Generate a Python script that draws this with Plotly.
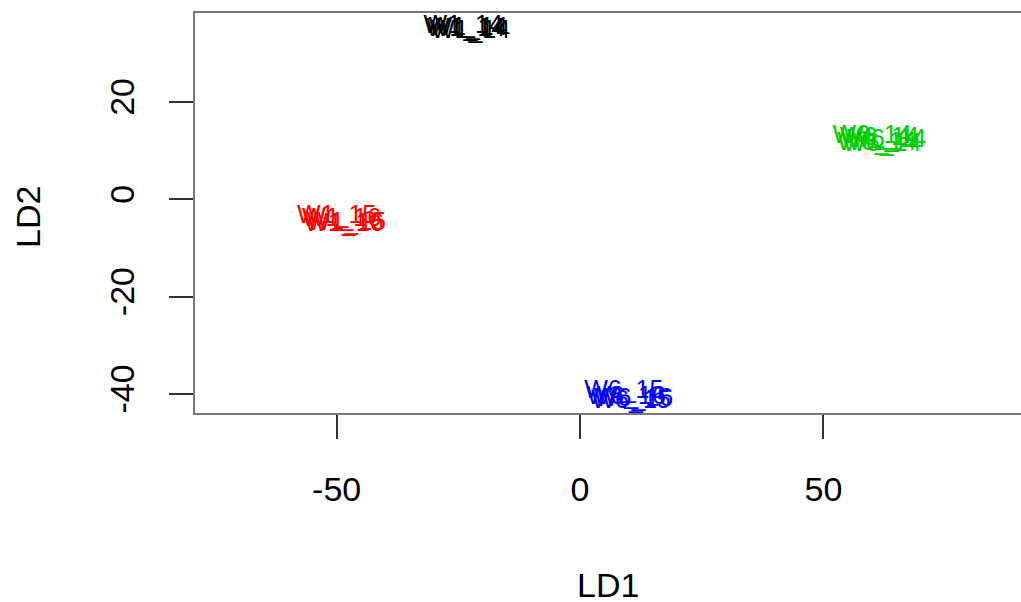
import plotly.graph_objects as go

# LD scores per sample
black_x = [-24.0, -23.0, -22.5, -23.5]
black_y = [35.5, 35.0, 34.5, 34.8]
black_lab = ["W1_14", "W1_14", "W1_14", "W1_14"]

red_x = [-50.0, -49.0, -48.0, -48.5]
red_y = [-3.5, -4.2, -5.0, -5.3]
red_lab = ["W1_15", "W1_16", "W1_15", "W1_16"]

green_x = [60.0, 61.5, 63.0, 62.0, 61.0]
green_y = [12.8, 12.5, 12.0, 11.2, 11.5]
green_lab = ["W6_14", "W6_14", "W6_14", "W6_14", "W6_14"]

blue_x = [9.0, 9.5, 10.5, 11.0]
blue_y = [-39.5, -40.8, -41.5, -41.2]
blue_lab = ["W6_15", "W6_16", "W6_15", "W6_16"]

x_ticks = [-50, 0, 50]
y_ticks = [-40, -20, 0, 20]

FONT = "Liberation Sans, Arial, Helvetica, sans-serif"
AX = 34
LAB = 25

fig = go.Figure()
for xs, ys, labs, col in [
    (black_x, black_y, black_lab, "#000000"),
    (red_x, red_y, red_lab, "#FF0000"),
    (green_x, green_y, green_lab, "#00CD00"),
    (blue_x, blue_y, blue_lab, "#0000FF"),
]:
    fig.add_trace(go.Scatter(
        x=xs, y=ys, text=labs, mode="text",
        textposition="middle center",
        textfont=dict(family=FONT, size=LAB, color=col),
        cliponaxis=True, showlegend=False, hoverinfo="skip",
    ))

fig.update_layout(
    width=1021, height=602,
    margin=dict(l=195, r=0, t=13, b=189),
    paper_bgcolor="white", plot_bgcolor="white",
    font=dict(family=FONT, size=AX, color="#000000"),
    showlegend=False,
)
fig.update_xaxes(
    range=[-79.1, 90.6], tickvals=x_ticks, ticktext=[str(v) for v in x_ticks],
    showgrid=False, zeroline=False,
    showline=True, linecolor="#777777", linewidth=2, mirror=True,
    ticks="outside", ticklen=24, tickwidth=2, tickcolor="#333333",
    ticklabelstandoff=21, tickfont=dict(size=AX, color="#000000"),
)
fig.update_yaxes(
    range=[-43.9, 38.3], tickvals=y_ticks, ticktext=[str(v) for v in y_ticks],
    showgrid=False, zeroline=False,
    showline=True, linecolor="#777777", linewidth=2, mirror=False,
    ticks="outside", ticklen=24, tickwidth=2, tickcolor="#333333",
    tickangle=-90, ticklabelstandoff=21, tickfont=dict(size=AX, color="#000000"),
)
fig.add_annotation(text="LD1", xref="paper", yref="paper", x=0.5, y=0,
                   xanchor="center", yanchor="middle", yshift=-172,
                   showarrow=False, font=dict(size=AX, family=FONT, color="#000000"))
fig.add_annotation(text="LD2", xref="paper", yref="paper", x=0, y=0.5,
                   xanchor="center", yanchor="middle", xshift=-167, yshift=-4,
                   textangle=-90,
                   showarrow=False, font=dict(size=AX, family=FONT, color="#000000"))

fig.write_html("out.html")
